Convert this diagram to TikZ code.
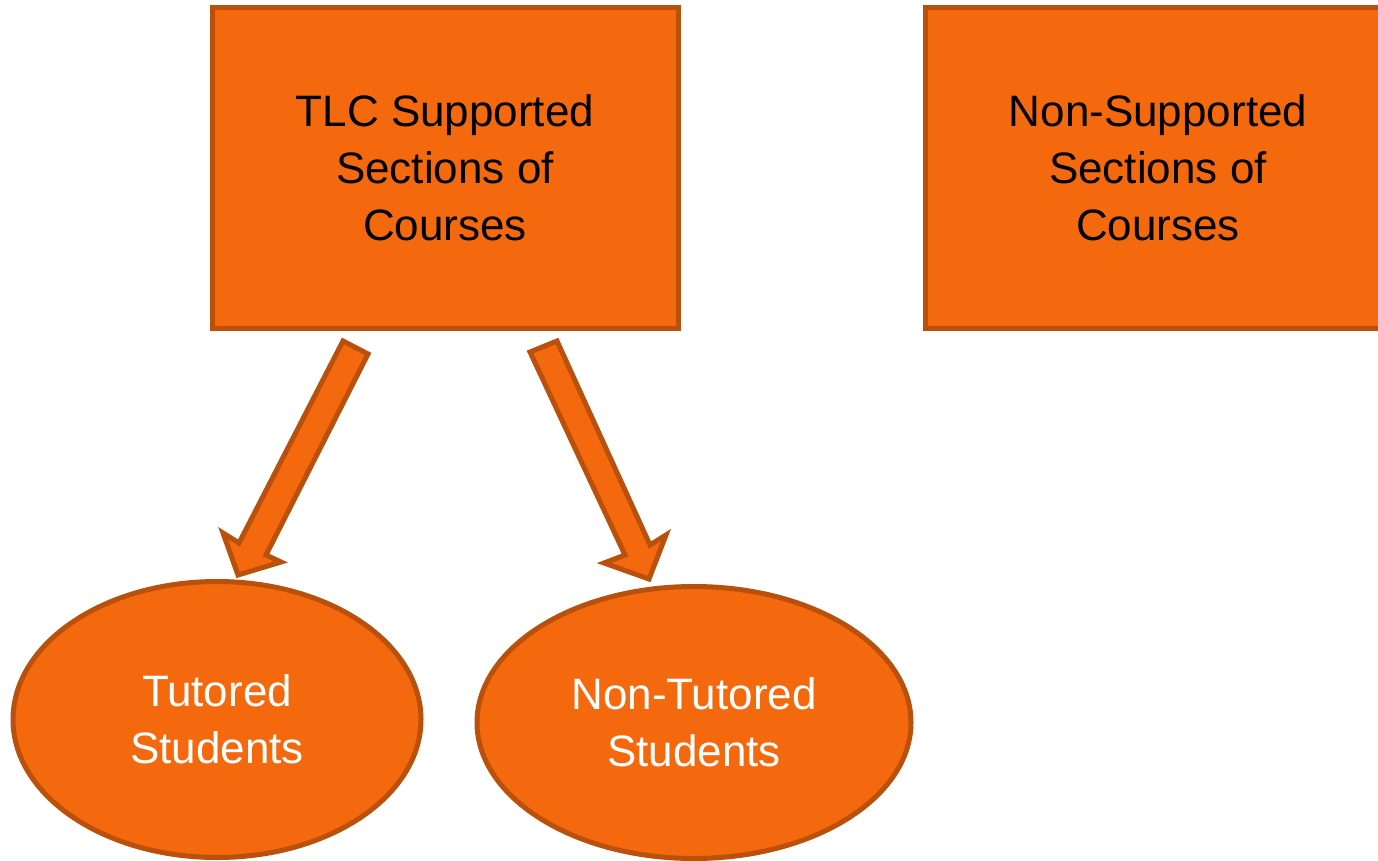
\documentclass[tikz,border=0pt]{standalone}
\usepackage{fontspec}
\setmainfont{Liberation Sans}
\usetikzlibrary{shapes.geometric}
\definecolor{boxfill}{HTML}{F4690D}
\definecolor{boxline}{HTML}{B9500C}
\begin{document}
\begin{tikzpicture}[x=1pt,y=-1pt,
  shapestyle/.style={fill=boxfill,draw=boxline,line width=5pt,line join=miter},
  boxnode/.style={shapestyle,rectangle,minimum width=466pt,minimum height=320pt,
    inner sep=0pt,align=center,text=black,
    font=\fontsize{44}{57}\selectfont},
  ovalnode/.style={shapestyle,ellipse,inner sep=0pt,align=center,text=white,
    font=\fontsize{44}{57}\selectfont},
  blockarrow/.style={shapestyle}]
\useasboundingbox (0,0) rectangle (1378,861);
\begin{scope}
\clip (0,0) rectangle (1378,861);
% top row: the two groups of course sections
\node[boxnode] (tlc) at (445,168) {TLC Supported\\Sections of\\Courses};
\node[boxnode] (non) at (1158,168) {Non-Supported\\Sections of\\Courses};
% bottom row: the two groups of students
\node[ovalnode,minimum width=408pt,minimum height=276pt] (tut) at (217,719.5) {Tutored\\Students};
\node[ovalnode,minimum width=434pt,minimum height=272pt] (ntut) at (694,722.5) {Non-Tutored\\Students};
% block arrows from the supported sections down to the students
\draw[blockarrow] (343,341) -- (239,543) -- (223,533) -- (238,575) -- (281,562)
  -- (266,555) -- (368,354) -- cycle;
\draw[blockarrow] (530,352) -- (625,555) -- (604,563) -- (649,579) -- (666,535)
  -- (650,545) -- (557,341) -- cycle;
\end{scope}
\end{tikzpicture}
\end{document}
